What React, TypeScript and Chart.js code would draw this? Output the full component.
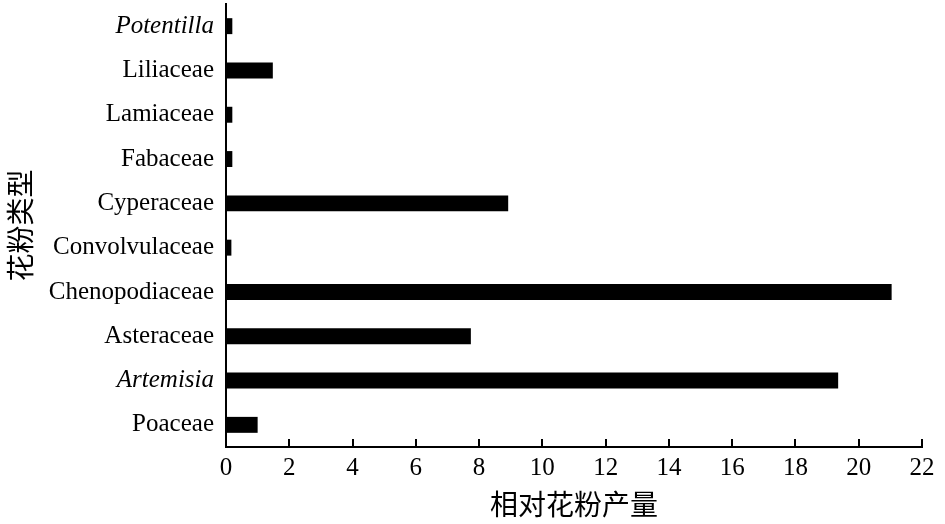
import React, { useEffect, useRef } from "react";
import { Chart, registerables } from "chart.js";

Chart.register(...registerables);

const categories = [
  "Potentilla",
  "Liliaceae",
  "Lamiaceae",
  "Fabaceae",
  "Cyperaceae",
  "Convolvulaceae",
  "Chenopodiaceae",
  "Asteraceae",
  "Artemisia",
  "Poaceae",
];
const italicCategories = ["Potentilla", "Artemisia"];
const pollenValues = [0.2, 1.48, 0.2, 0.2, 8.92, 0.17, 21.04, 7.74, 19.35, 1.0];
const xTickValues = [0, 2, 4, 6, 8, 10, 12, 14, 16, 18, 20, 22];
const xTitle = "相对花粉产量";
const yTitle = "花粉类型";

const SERIF = '"Liberation Serif", "Times New Roman", serif';
const CJK = '"Noto Sans CJK SC", "Noto Sans", sans-serif';

export default function App() {
  const ref = useRef<HTMLCanvasElement | null>(null);

  useEffect(() => {
    if (!ref.current) return;
    const innerTicks = {
      id: "innerTicks",
      afterDraw(chart: any) {
        const xs = chart.scales.x;
        const ctx = chart.ctx;
        const bottom = chart.chartArea.bottom;
        ctx.save();
        ctx.strokeStyle = "#000";
        ctx.lineWidth = 2;
        xTickValues.forEach((v) => {
          const px = Math.round(xs.getPixelForValue(v));
          ctx.beginPath();
          ctx.moveTo(px, bottom);
          ctx.lineTo(px, bottom - 8);
          ctx.stroke();
        });
        ctx.restore();
      },
    };

    const chart = new Chart(ref.current, {
      type: "bar",
      data: {
        labels: categories,
        datasets: [
          {
            data: pollenValues,
            backgroundColor: "#000",
            borderWidth: 0,
            barPercentage: 0.36,
            categoryPercentage: 1,
          },
        ],
      },
      options: {
        indexAxis: "y",
        animation: false,
        responsive: false,
        devicePixelRatio: 1,
        layout: { padding: { left: 4, top: 4, right: 23, bottom: 0 } },
        plugins: {
          legend: { display: false },
          tooltip: { enabled: false },
        },
        scales: {
          x: {
            min: 0,
            max: 22,
            afterBuildTicks: (scale: any) => {
              scale.ticks = xTickValues.map((v) => ({ value: v }));
            },
            afterFit: (scale: any) => {
              scale.height = 77;
            },
            grid: { display: false, drawTicks: false },
            border: { display: true, color: "#000", width: 2 },
            ticks: {
              color: "#000",
              padding: 6,
              maxRotation: 0,
              autoSkip: false,
              font: { family: SERIF, size: 25 },
            },
            title: {
              display: true,
              text: xTitle,
              color: "#000",
              font: { family: CJK, size: 28 },
              padding: { top: 0, bottom: 3 },
            },
          },
          y: {
            afterFit: (scale: any) => {
              scale.width = 222;
              scale.paddingTop = 0;
              scale.paddingBottom = 0;
            },
            grid: { display: false, drawTicks: false },
            border: { display: true, color: "#000", width: 2 },
            ticks: {
              color: "#000",
              padding: 12,
              autoSkip: false,
              font: (ctx: any) => ({
                family: SERIF,
                size: 25,
                style: italicCategories.includes(categories[ctx.index]) ? "italic" : "normal",
              }),
            },
            title: {
              display: true,
              text: yTitle,
              color: "#000",
              font: { family: CJK, size: 28 },
              padding: { top: 0, bottom: 0 },
            },
          },
        },
      },
      plugins: [innerTicks],
    } as any);
    return () => chart.destroy();
  }, []);

  return (
    <div style={{ position: "fixed", left: 0, top: 0, width: 945, height: 524, background: "#fff" }}>
      <canvas ref={ref} width={945} height={524} style={{ width: 945, height: 524 }} />
    </div>
  );
}
